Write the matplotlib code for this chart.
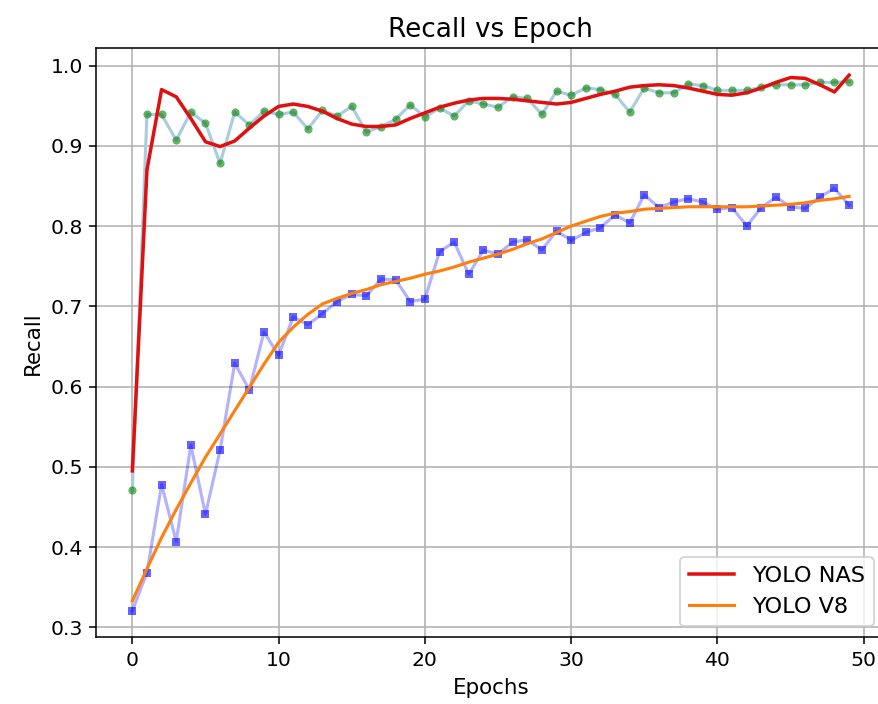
import matplotlib
matplotlib.use("Agg")
import matplotlib.pyplot as plt
import numpy as np

# raw recall per epoch
epochs = np.arange(50)

nas_recall = [
    0.471, 0.939, 0.939, 0.907, 0.942, 0.928, 0.878, 0.942, 0.926, 0.943,
    0.939, 0.942, 0.921, 0.944, 0.937, 0.949, 0.917, 0.924, 0.933, 0.951,
    0.936, 0.947, 0.937, 0.956, 0.952, 0.948, 0.961, 0.959, 0.939, 0.968,
    0.963, 0.972, 0.970, 0.964, 0.942, 0.972, 0.966, 0.966, 0.977, 0.975,
    0.969, 0.969, 0.969, 0.973, 0.976, 0.976, 0.976, 0.979, 0.979, 0.980,
]

v8_recall = [
    0.321, 0.368, 0.478, 0.407, 0.527, 0.441, 0.521, 0.629, 0.596, 0.668,
    0.639, 0.687, 0.677, 0.691, 0.706, 0.715, 0.713, 0.734, 0.733, 0.706,
    0.709, 0.768, 0.780, 0.740, 0.770, 0.765, 0.780, 0.783, 0.770, 0.794,
    0.782, 0.792, 0.798, 0.814, 0.804, 0.839, 0.823, 0.830, 0.834, 0.830,
    0.821, 0.823, 0.800, 0.823, 0.836, 0.824, 0.822, 0.836, 0.847, 0.826,
]

# smoothed curves
nas_smooth = [
    0.495, 0.870, 0.970, 0.961, 0.934, 0.905, 0.899, 0.906, 0.922, 0.937,
    0.949, 0.952, 0.949, 0.943, 0.934, 0.927, 0.924, 0.924, 0.926, 0.934,
    0.941, 0.948, 0.953, 0.957, 0.959, 0.959, 0.958, 0.956, 0.954, 0.952,
    0.954, 0.959, 0.964, 0.968, 0.973, 0.975, 0.976, 0.975, 0.972, 0.968,
    0.964, 0.963, 0.966, 0.972, 0.979, 0.985, 0.984, 0.976, 0.967, 0.988,
]

v8_smooth = [
    0.333, 0.373, 0.412, 0.447, 0.480, 0.512, 0.541, 0.570, 0.599, 0.628,
    0.655, 0.674, 0.690, 0.703, 0.710, 0.716, 0.721, 0.727, 0.731, 0.735,
    0.740, 0.744, 0.749, 0.755, 0.760, 0.765, 0.771, 0.778, 0.784, 0.792,
    0.800, 0.806, 0.812, 0.816, 0.818, 0.821, 0.822, 0.823, 0.824, 0.824,
    0.824, 0.824, 0.824, 0.825, 0.826, 0.827, 0.829, 0.832, 0.834, 0.837,
]

fig = plt.figure(figsize=(878 / 140, 704 / 140), dpi=140)
ax = fig.add_axes([0.1099, 0.0947, 0.898, 0.8366])

# raw points
ax.plot(epochs, nas_recall, color="#a9cce0", lw=1.6, zorder=2)
ax.plot(epochs, nas_recall, "o", color="green", alpha=0.6, ms=4.2, mew=0, zorder=3)
ax.plot(epochs, v8_recall, color="blue", alpha=0.3, lw=1.6, zorder=2)
ax.plot(epochs, v8_recall, "s", color="blue", alpha=0.6, ms=3.8, mew=0, zorder=3)

# smoothed
ax.plot(epochs, nas_smooth, color="#e01010", lw=1.8, label="YOLO NAS", zorder=4)
ax.plot(epochs, v8_smooth, color="#ff7f0e", lw=1.6, label="YOLO V8", zorder=4)

ax.set_title("Recall vs Epoch", fontsize=13.5)
ax.set_xlabel("Epochs", fontsize=11)
ax.set_ylabel("Recall", fontsize=11)
ax.tick_params(labelsize=10.5)
ax.grid(True)
ax.legend(loc="lower right", fontsize=11.5)

fig.savefig("out.png", dpi=140)
